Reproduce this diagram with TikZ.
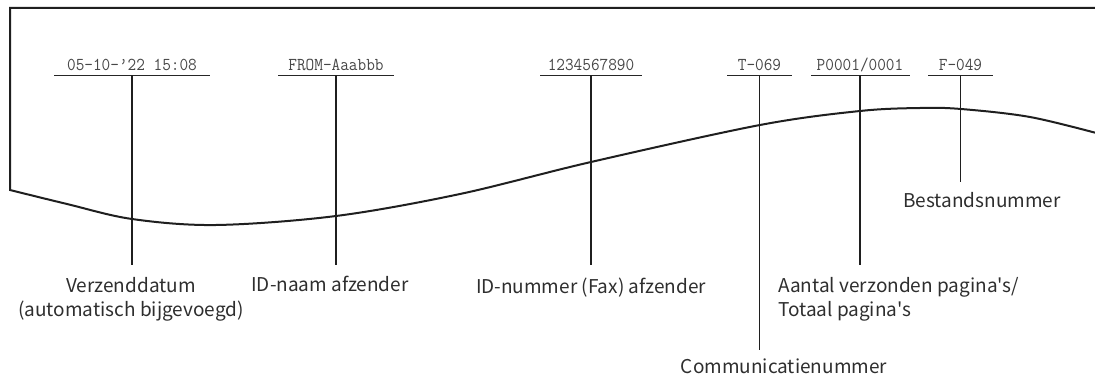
\documentclass[tikz,border=0pt]{standalone}
\usepackage{fontspec}
\newfontfamily\labelfont{Noto Sans CJK JP}
\begin{document}
\begin{tikzpicture}[x=1pt,y=-1pt,
  paper/.style={line width=2pt, draw=black!88, line join=miter},
  mono/.style={font=\fontsize{16.8}{20}\selectfont\ttfamily, text=black!72, anchor=base, inner sep=0pt},
  uline/.style={line width=1pt, draw=black!85},
  leader/.style={line width=1.2pt, draw=black!88},
  lbl/.style={font=\fontsize{19}{24.5}\selectfont\labelfont, text=black!82, anchor=base, inner sep=0pt}]
\useasboundingbox (0,0) rectangle (1095,379);

% paper outline
\draw[paper] (1100,8) -- (10,8) -- plot[smooth,tension=0.55] coordinates {(10,190) (67,204) (132,219) (216,225) (336,216) (460,194) (591,162) (760,125) (860,111) (920,108) (961,109) (1030,117) (1100,134)};

% header texts
\node[mono] (date) at (132,71) {\scalebox{1}[1.08]{05-10-’22 15:08}};
\node[mono] (from) at (336,71) {\scalebox{1}[1.08]{FROM-Aaabbb}};
\node[mono] (fax)  at (591,71) {\scalebox{1}[1.08]{1234567890}};
\node[mono] (tno)  at (759.5,71) {\scalebox{1}[1.08]{T-069}};
\node[mono] (pag)  at (860,71) {\scalebox{1}[1.08]{P0001/0001}};
\node[mono] (fno)  at (960.5,71) {\scalebox{1}[1.08]{F-049}};

% underlines
\draw[uline] (54,75.5) -- (210,75.5);
\draw[uline] (278,75.5) -- (394,75.5);
\draw[uline] (540,75.5) -- (642,75.5);
\draw[uline] (727,75.5) -- (792,75.5);
\draw[uline] (811,75.5) -- (910,75.5);
\draw[uline] (928,75.5) -- (993,75.5);

% connector anchors
\coordinate (dateU) at (132,75.5);  \coordinate (dateE) at (132,265);
\coordinate (fromU) at (336,75.5);  \coordinate (fromE) at (336,265);
\coordinate (faxU)  at (591,75.5);  \coordinate (faxE)  at (591,265);
\coordinate (tnoU)  at (759.5,75.5);\coordinate (tnoE)  at (759.5,350);
\coordinate (pagU)  at (860,75.5);  \coordinate (pagE)  at (860,265);
\coordinate (fnoU)  at (960.5,75.5);\coordinate (fnoE)  at (960.5,182);

\draw[leader] (dateU) -- (dateE);
\draw[leader] (fromU) -- (fromE);
\draw[leader] (faxU) -- (faxE);
\draw[leader] (tnoU) -- (tnoE);
\draw[leader] (pagU) -- (pagE);
\draw[leader] (fnoU) -- (fnoE);

% labels (multi-line nodes: base = last line)
\node[lbl, align=center] (ldate) at (131,316.5) {Verzenddatum\\(automatisch bijgevoegd)};
\node[lbl] (lfrom) at (330,292) {ID-naam afzender};
\node[lbl] (lfax)  at (591,294) {ID-nummer (Fax) afzender};
\node[lbl, anchor=base west, align=left] (lpag) at (778,316.5) {Aantal verzonden pagina's/\\Totaal pagina's};
\node[lbl] (ltno)  at (784,373) {Communicatienummer};
\node[lbl] (lfno)  at (982,208) {Bestandsnummer};
\end{tikzpicture}
\end{document}
